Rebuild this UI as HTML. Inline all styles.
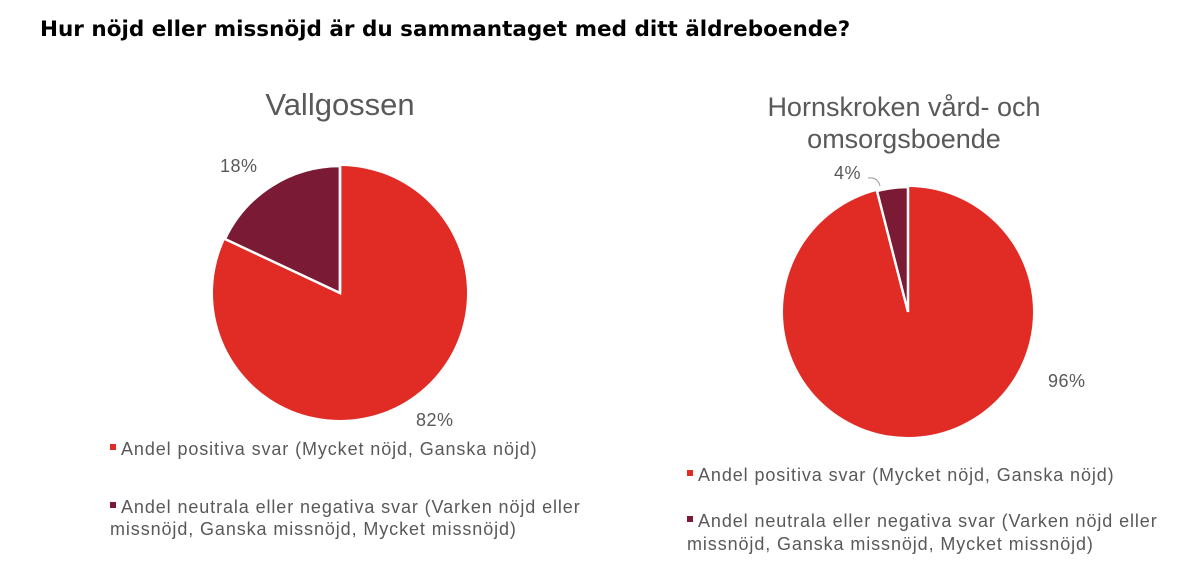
<!DOCTYPE html>
<html><head><meta charset="utf-8"><style>
body{margin:0;width:1200px;height:574px;background:#fff;overflow:hidden;font-family:"Liberation Sans",sans-serif;position:relative}
.t{position:absolute;white-space:nowrap}
</style></head><body>
<div class="t" style="left:40px;top:17px;font-size:21.5px;font-weight:bold;color:#000;font-family:'DejaVu Sans','Liberation Sans',sans-serif">Hur nöjd eller missnöjd är du sammantaget med ditt äldreboende?</div>
<svg width="1200" height="574" style="position:absolute;left:0;top:0">
<g font-family="Liberation Sans, sans-serif" fill="#595959">
<text x="340" y="115" font-size="31" text-anchor="middle">Vallgossen</text>
<circle cx="340" cy="293" r="127" fill="#e12b25"/>
<path d="M340,293 L340,166 A127,127 0 0 0 225,239 Z" fill="#7a1a34" stroke="#fff" stroke-width="2.5"/>
<line x1="340" y1="293" x2="340" y2="166" stroke="#fff" stroke-width="2.5"/>
<text x="220" y="172" font-size="18" letter-spacing="0.5">18%</text>
<text x="416" y="426" font-size="18" letter-spacing="0.5">82%</text>
<g font-size="18" letter-spacing="0.9">
<rect x="110" y="444" width="6" height="6" fill="#e12b25"/>
<text x="121" y="455">Andel positiva svar (Mycket nöjd, Ganska nöjd)</text>
<rect x="110" y="502" width="6" height="6" fill="#7a1a34"/>
<text x="121" y="513">Andel neutrala eller negativa svar (Varken nöjd eller</text>
<text x="110" y="535">missnöjd, Ganska missnöjd, Mycket missnöjd)</text>
</g>
<text x="904" y="116" font-size="27" text-anchor="middle">Hornskroken vård- och</text>
<text x="904" y="148" font-size="27" text-anchor="middle">omsorgsboende</text>
<circle cx="908" cy="312" r="125" fill="#e12b25"/>
<path d="M908,312 L908,187 A125,125 0 0 0 877,191 Z" fill="#7a1a34" stroke="#fff" stroke-width="2.5"/>
<path d="M868,178 Q878,177 880,186" fill="none" stroke="#999" stroke-width="1"/>
<text x="834" y="179" font-size="18" letter-spacing="0.5">4%</text>
<text x="1048" y="387" font-size="18" letter-spacing="0.5">96%</text>
<g font-size="18" letter-spacing="0.9">
<rect x="687" y="470" width="6" height="6" fill="#e12b25"/>
<text x="698" y="481">Andel positiva svar (Mycket nöjd, Ganska nöjd)</text>
<rect x="687" y="516" width="6" height="6" fill="#7a1a34"/>
<text x="698" y="527">Andel neutrala eller negativa svar (Varken nöjd eller</text>
<text x="687" y="550">missnöjd, Ganska missnöjd, Mycket missnöjd)</text>
</g>
</g>
</svg>
</body></html>
